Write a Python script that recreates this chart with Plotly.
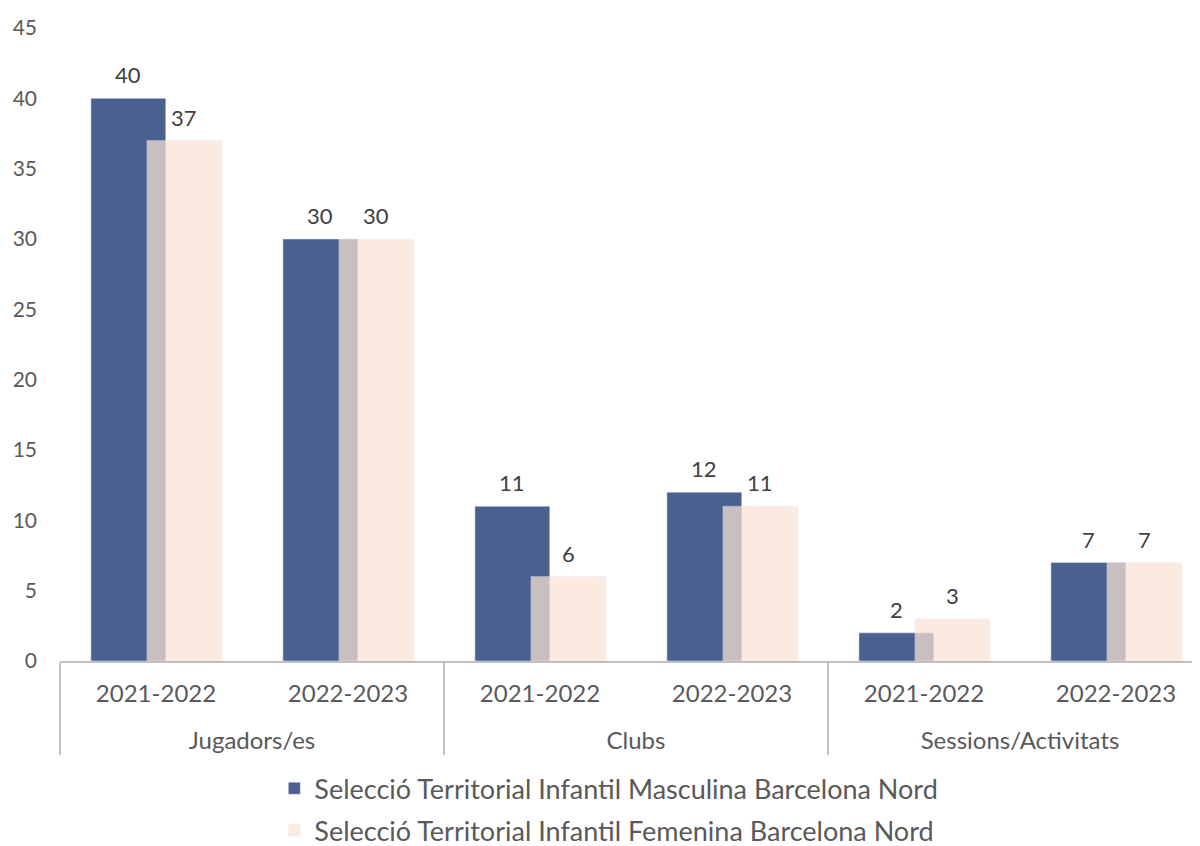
"""Seleccions territorials infantils Barcelona Nord: barres agrupades per temporada."""

import plotly.graph_objects as go

grupos = ["Jugadors/es", "Jugadors/es", "Clubs", "Clubs",
          "Sessions/Activitats", "Sessions/Activitats"]
temporades = ["2021-2022", "2022-2023"] * 3
masculina = [40, 30, 11, 12, 2, 7]
femenina = [37, 30, 6, 11, 3, 7]
nom_masc = "Selecció Territorial Infantil Masculina Barcelona Nord"
nom_fem = "Selecció Territorial Infantil Femenina Barcelona Nord"

BLAU = "#4a6190"
PRESSEC = "#fce3d5"
GRIS_TEXT = "#595959"
GRIS_LINIA = "#bfbfbf"
FONT = "Lato"

AMPLE = 0.39
OFF_M = -0.339
OFF_F = -0.047
RANG = [-0.5, 5.4375]


def gran(t):
    return f"<span style='font-size:24px'>{t}</span>"


# linies buides sota la temporada per separar els dos nivells de l'eix
nivell_temp = [gran(t) + "<br>&nbsp;<br>&nbsp;" for t in temporades]
nivell_grup = [gran(g) for g in grupos]
eix_x = [nivell_grup, nivell_temp]

fig = go.Figure()
fig.add_trace(go.Bar(
    x=eix_x, y=masculina, name=nom_masc,
    marker_color=BLAU, width=AMPLE, offset=OFF_M, legendgroup="m",
))
fig.add_trace(go.Bar(
    x=eix_x, y=femenina, name=nom_fem,
    marker_color=PRESSEC, opacity=0.72, width=AMPLE, offset=OFF_F,
    legendgroup="f",
))
# eix auxiliar numeric per posar les etiquetes de valor
fig.add_trace(go.Scatter(x=[], y=[], xaxis="x2", showlegend=False))

for i, (m, f) in enumerate(zip(masculina, femenina)):
    for val, off in ((m, OFF_M), (f, OFF_F)):
        fig.add_annotation(
            x=i + off + AMPLE / 2, y=val, xref="x2", yref="y",
            text=str(val), showarrow=False, yanchor="bottom", yshift=8,
            font=dict(family=FONT, size=22, color="#404040"),
        )

fig.update_layout(
    width=1192,
    height=838,
    barmode="overlay",
    plot_bgcolor="white",
    paper_bgcolor="white",
    margin=dict(l=52, r=0, t=20, b=185, autoexpand=False),
    font=dict(family=FONT, color=GRIS_TEXT),
    xaxis=dict(
        range=RANG,
        showline=True, linecolor=GRIS_LINIA, linewidth=2,
        showgrid=False, ticks="",
        ticklabelstandoff=21,
        dividercolor=GRIS_LINIA, dividerwidth=2,
        tickfont=dict(family=FONT, size=15, color=GRIS_TEXT),
    ),
    xaxis2=dict(overlaying="x", anchor="y", range=RANG, visible=False),
    yaxis=dict(
        range=[0, 45], dtick=5,
        showgrid=False, showline=False, zeroline=False,
        ticklabelstandoff=22,
        tickfont=dict(family=FONT, size=21, color=GRIS_TEXT),
    ),
    legend=dict(
        orientation="v",
        x=0.188, y=-0.163, xanchor="left", yanchor="top",
        font=dict(family=FONT, size=27, color=GRIS_TEXT),
        tracegroupgap=4,
    ),
)

fig.write_html("out.html")
